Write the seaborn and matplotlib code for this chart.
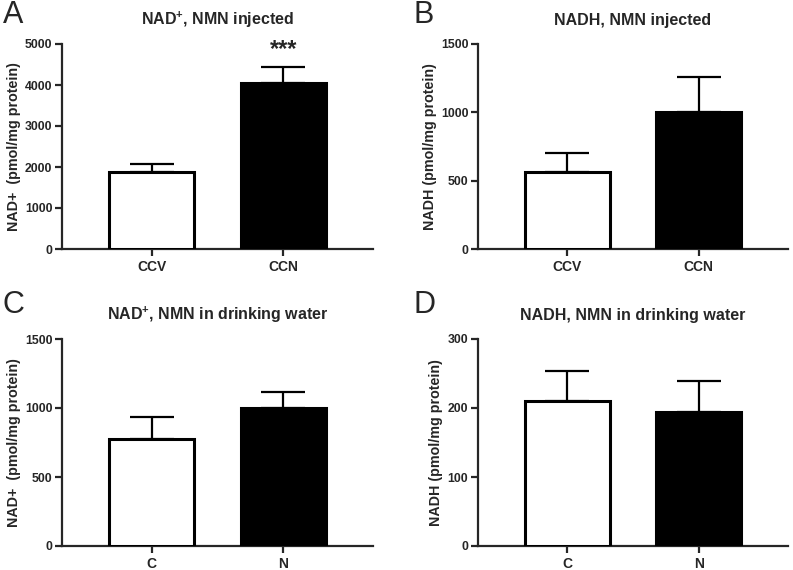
import numpy as np
import pandas as pd
import matplotlib
matplotlib.use("Agg")
import matplotlib.pyplot as plt
import seaborn as sns

# ---- data ----
cats_inj = ["CCV", "CCN"]
cats_dw = ["C", "N"]
nad_inj = [1890, 4060]
nad_inj_err = [190, 380]
nadh_inj = [565, 1002]
nadh_inj_err = [137, 254]
nad_dw = [775, 1000]
nad_dw_err = [162, 118]
nadh_dw = [210, 194]
nadh_dw_err = [44, 45]

titles = [r"NAD$^{\mathbf{+}}$, NMN injected", "NADH, NMN injected",
          r"NAD$^{\mathbf{+}}$, NMN in drinking water", "NADH, NMN in drinking water"]
ylabels = ["NAD+  (pmol/mg protein)", "NADH (pmol/mg protein)",
           "NAD+  (pmol/mg protein)", "NADH (pmol/mg protein)"]
letters = ["A", "B", "C", "D"]
ylims = [5000, 1500, 1500, 300]
yticks = [[0, 1000, 2000, 3000, 4000, 5000], [0, 500, 1000, 1500],
          [0, 500, 1000, 1500], [0, 100, 200, 300]]

sns.set_style("ticks")
plt.rcParams["font.family"] = ["Liberation Sans", "DejaVu Sans"]
plt.rcParams["font.weight"] = "bold"
plt.rcParams["mathtext.fontset"] = "custom"
plt.rcParams["mathtext.rm"] = "Liberation Sans:bold"
plt.rcParams["mathtext.bf"] = "Liberation Sans:bold"

fig = plt.figure(figsize=(7.93, 5.70), dpi=100)
W, H = 793, 570
boxes = [(62, 373, 44, 249), (478, 788, 44, 249), (62, 373, 339, 546), (478, 788, 339, 546)]
letter_pos = [(3, 15), (414, 15), (3, 305), (414, 305)]

panels = [(cats_inj, nad_inj, nad_inj_err), (cats_inj, nadh_inj, nadh_inj_err),
          (cats_dw, nad_dw, nad_dw_err), (cats_dw, nadh_dw, nadh_dw_err)]

for i, ((cats, vals, errs), (l, r, t, b)) in enumerate(zip(panels, boxes)):
    ax = fig.add_axes([l / W, 1 - b / H, (r - l) / W, (b - t) / H])
    df = pd.DataFrame({"group": cats, "value": vals})
    sns.barplot(data=df, x="group", y="value", hue="group",
                palette=["white", "black"], edgecolor="black", linewidth=2.2,
                width=0.65, errorbar=None, legend=False, ax=ax, zorder=3)
    ax.errorbar(range(len(cats)), vals, yerr=[np.zeros(len(errs)), errs],
                fmt="none", ecolor="black", elinewidth=1.6, capsize=15.5,
                capthick=1.6, zorder=2)
    ax.set_xlim(-0.68, 1.68)
    ax.set_ylim(0, ylims[i])
    ax.set_yticks(yticks[i])
    ax.set_xlabel("")
    ax.set_ylabel(ylabels[i], fontsize=10.3, fontweight="bold", labelpad=3)
    ax.set_title(titles[i], fontsize=11.5, fontweight="bold", pad=14)
    sns.despine(ax=ax)
    for sp in ["left", "bottom"]:
        ax.spines[sp].set_linewidth(1.6)
    ax.tick_params(axis="y", labelsize=8.8, width=1.6, length=5, pad=2)
    ax.tick_params(axis="x", labelsize=10, width=1.6, length=5, pad=3)
    for lab in ax.get_xticklabels() + ax.get_yticklabels():
        lab.set_fontweight("bold")
    lx, ly = letter_pos[i]
    fig.text(lx / W, 1 - ly / H, letters[i], fontsize=22, fontweight="normal",
             ha="left", va="center")
    if i == 0:
        ax.text(1, vals[1] + errs[1] + 420, "***", ha="center", va="center",
                fontsize=17, fontweight="bold")

fig.savefig("out.png", dpi=100)
